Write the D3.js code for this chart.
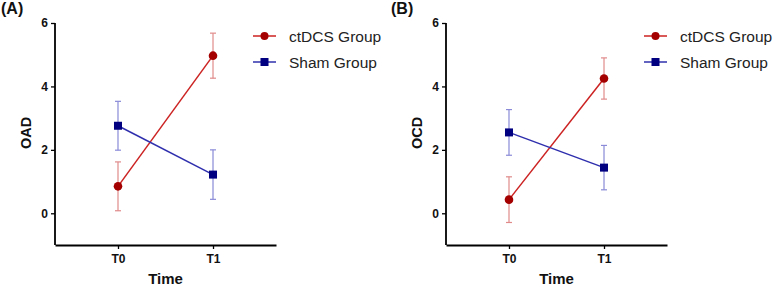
<!DOCTYPE html>
<html>
<head>
<meta charset="utf-8">
<script src="https://cdn.jsdelivr.net/npm/d3@7"></script>
<style>
  body { margin: 0; background: #fff; }
  svg { display: block; }
</style>
</head>
<body>
<script>
var w = 774;
var h = 286;

var times = ["T0", "T1"];
var groups = ["ctDCS Group", "Sham Group"];
var yTicks = [0, 2, 4, 6];

// panel A: OAD
var oadCtdcs = [0.85, 4.97];
var oadCtdcsErr = [0.77, 0.71];
var oadSham = [2.76, 1.22];
var oadShamErr = [0.77, 0.78];

// panel B: OCD
var ocdCtdcs = [0.43, 4.25];
var ocdCtdcsErr = [0.72, 0.65];
var ocdSham = [2.55, 1.44];
var ocdShamErr = [0.72, 0.70];

var colors = {
    line: ["#cc2222", "#2f2fae"],
    mark: ["#a50000", "#000080"],
    err: ["#e08a8a", "#8a8ad8"]
};

var svg = d3.select("body")
            .append("svg")
            .attr("width", w)
            .attr("height", h);

function panel(opts) {
    var left = opts.left;
    var g = svg.append("g");

    var yScale = d3.scaleLinear()
                   .domain([-1, 6])
                   .range([245, 23]);

    var xScale = d3.scalePoint()
                   .domain(times)
                   .range([left, left + 221])
                   .padding(0.663);

    // y axis
    var yAxis = d3.axisLeft(yScale).tickValues(yTicks).tickFormat(d3.format("d"))
                  .tickSize(4).tickSizeOuter(0);
    var yg = g.append("g")
              .attr("transform", "translate(" + left + ",0)")
              .call(yAxis);
    yg.select(".domain").attr("d", "M0," + yScale(6) + "V" + yScale(-1));

    // x axis
    var xAxis = d3.axisBottom(xScale).tickSize(4).tickSizeOuter(0);
    var xg = g.append("g")
              .attr("transform", "translate(0," + yScale(-1) + ")")
              .call(xAxis);

    [yg, xg].forEach(function(a) {
        a.select(".domain").attr("stroke", "#000").attr("stroke-width", 1.8);
        a.selectAll(".tick line").attr("stroke", "#000").attr("stroke-width", 1.3);
        a.selectAll(".tick text")
         .attr("fill", "#111")
         .style("font-family", "Liberation Sans, Arial, sans-serif")
         .style("font-weight", "bold")
         .style("font-size", "12px");
    });
    yg.selectAll(".tick text").attr("x", -7);
    xg.selectAll(".tick text").attr("y", 9);

    // titles
    g.append("text")
     .attr("x", (left + left + 221) / 2)
     .attr("y", 284)
     .attr("text-anchor", "middle")
     .style("font-family", "Liberation Sans, Arial, sans-serif")
     .style("font-weight", "bold")
     .style("font-size", "15px")
     .attr("fill", "#111")
     .text("Time");

    g.append("text")
     .attr("transform", "translate(" + (left - 24) + "," + 133 + ") rotate(-90)")
     .attr("text-anchor", "middle")
     .style("font-family", "Liberation Sans, Arial, sans-serif")
     .style("font-weight", "bold")
     .style("font-size", "14.5px")
     .attr("fill", "#111")
     .text(opts.ylabel);

    g.append("text")
     .attr("x", opts.tagX)
     .attr("y", 14)
     .style("font-family", "Liberation Sans, Arial, sans-serif")
     .style("font-weight", "bold")
     .style("font-size", "16px")
     .attr("fill", "#111")
     .text(opts.tag);

    var series = [
        { vals: opts.a, err: opts.aErr, i: 0 },
        { vals: opts.b, err: opts.bErr, i: 1 }
    ];

    var line = d3.line()
                 .x(function(d, i) { return xScale(times[i]); })
                 .y(function(d) { return yScale(d); });

    // error bars
    series.forEach(function(s) {
        var eg = g.append("g").attr("stroke", colors.err[s.i]).attr("stroke-width", 1.2);
        s.vals.forEach(function(v, j) {
            var x = xScale(times[j]);
            eg.append("line")
              .attr("x1", x).attr("x2", x)
              .attr("y1", yScale(v + s.err[j]))
              .attr("y2", yScale(v - s.err[j]));
            [v + s.err[j], v - s.err[j]].forEach(function(e) {
                eg.append("line")
                  .attr("x1", x - 3).attr("x2", x + 3)
                  .attr("y1", yScale(e)).attr("y2", yScale(e));
            });
        });
    });

    // lines + markers
    series.forEach(function(s) {
        g.append("path")
         .datum(s.vals)
         .attr("fill", "none")
         .attr("stroke", colors.line[s.i])
         .attr("stroke-width", 1.5)
         .attr("d", line);
        s.vals.forEach(function(v, j) {
            var x = xScale(times[j]), y = yScale(v);
            if (s.i === 0) {
                g.append("circle").attr("cx", x).attr("cy", y).attr("r", 4.3)
                 .attr("fill", colors.mark[0]);
            } else {
                g.append("rect").attr("x", x - 4).attr("y", y - 4)
                 .attr("width", 8).attr("height", 8)
                 .attr("fill", colors.mark[1]);
            }
        });
    });

    // legend
    groups.forEach(function(name, i) {
        var ly = 36 + i * 26;
        var lx = opts.legendX;
        g.append("line")
         .attr("x1", lx).attr("x2", lx + 23)
         .attr("y1", ly).attr("y2", ly)
         .attr("stroke", colors.line[i]).attr("stroke-width", 1.5);
        if (i === 0) {
            g.append("circle").attr("cx", lx + 11.5).attr("cy", ly).attr("r", 4)
             .attr("fill", colors.mark[0]);
        } else {
            g.append("rect").attr("x", lx + 7.5).attr("y", ly - 4)
             .attr("width", 8).attr("height", 8).attr("fill", colors.mark[1]);
        }
        g.append("text")
         .attr("x", lx + 36)
         .attr("y", ly + 5.5)
         .style("font-family", "Liberation Sans, Arial, sans-serif")
         .style("font-size", "15.5px")
         .attr("fill", "#222")
         .text(name);
    });
}

panel({ left: 55, ylabel: "OAD", tag: "(A)", tagX: 1, legendX: 253,
        a: oadCtdcs, aErr: oadCtdcsErr, b: oadSham, bErr: oadShamErr });
panel({ left: 446, ylabel: "OCD", tag: "(B)", tagX: 391, legendX: 644,
        a: ocdCtdcs, aErr: ocdCtdcsErr, b: ocdSham, bErr: ocdShamErr });
</script>
</body>
</html>
